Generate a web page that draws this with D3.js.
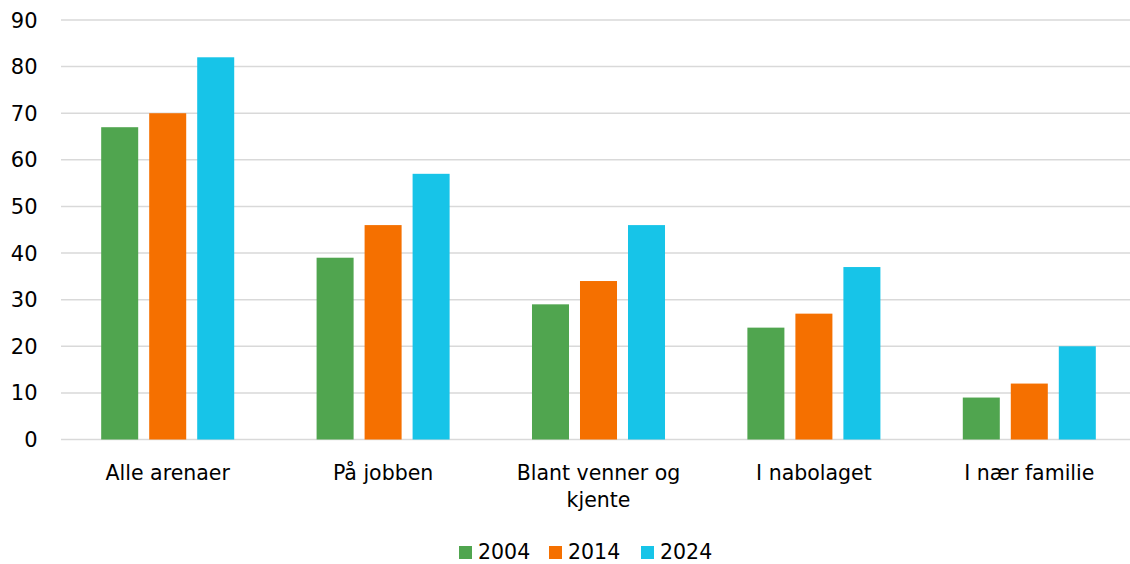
<!DOCTYPE html>
<html><head><meta charset="utf-8">
<script src="https://cdn.jsdelivr.net/npm/d3@7"></script>
<style>body{margin:0;background:#fff}svg{display:block}text{font-family:"DejaVu Sans",Verdana,sans-serif;fill:#000}</style>
</head><body><svg id="c" width="1130" height="564"></svg>
<script>
const categories = ["Alle arenaer", "På jobben", "Blant venner og kjente", "I nabolaget", "I nær familie"];
const categoryLines = [["Alle arenaer"], ["På jobben"], ["Blant venner og", "kjente"], ["I nabolaget"], ["I nær familie"]];
const seriesNames = ["2004", "2014", "2024"];
const values2004 = [67, 39, 29, 24, 9];
const values2014 = [70, 46, 34, 27, 12];
const values2024 = [82, 57, 46, 37, 20];
const yTicks = [0, 10, 20, 30, 40, 50, 60, 70, 80, 90];
const colors = ["#50A54F", "#F57000", "#17C4E8"];
const seriesValues = [values2004, values2014, values2024];

const svg = d3.select("#c");
const x = d3.scaleBand().domain(categories).range([60, 1137]).paddingInner(0).paddingOuter(0);
const x1 = d3.scaleBand().domain(seriesNames).range([0, x.bandwidth()]).paddingInner(0.229).paddingOuter(0.858);
const y = d3.scaleLinear().domain([0, 90]).range([439.5, 20]);

// gridlines
svg.append("g").selectAll("line").data(yTicks).join("line")
  .attr("x1", 61).attr("x2", 1130)
  .attr("y1", d => y(d)).attr("y2", d => y(d))
  .attr("stroke", "#d9d9d9").attr("stroke-width", 1.5);

// y labels
svg.append("g").selectAll("text").data(yTicks).join("text")
  .attr("x", 37.5).attr("y", d => y(d)).attr("dy", "0.36em")
  .attr("text-anchor", "end").attr("font-size", 21).text(d => d);

// bars
const groups = svg.append("g").selectAll("g").data(categories).join("g")
  .attr("transform", d => `translate(${x(d)},0)`);
groups.selectAll("rect").data((d, i) => seriesNames.map((s, j) => ({s, j, v: seriesValues[j][i]}))).join("rect")
  .attr("x", d => x1(d.s)).attr("width", x1.bandwidth())
  .attr("y", d => y(d.v)).attr("height", d => y(0) - y(d.v))
  .attr("fill", d => colors[d.j]);

// x labels
categories.forEach((c, i) => {
  const t = svg.append("text").attr("text-anchor", "middle").attr("font-size", 20.5)
    .attr("x", x(c) + x.bandwidth() / 2).attr("y", 480);
  categoryLines[i].forEach((l, k) => t.append("tspan").attr("x", x(c) + x.bandwidth() / 2).attr("dy", k ? 27 : 0).text(l));
});

// legend
const legendX = [459, 549, 641];
seriesNames.forEach((s, j) => {
  svg.append("rect").attr("x", legendX[j]).attr("y", 546).attr("width", 13).attr("height", 13).attr("fill", colors[j]);
  svg.append("text").attr("x", legendX[j] + 19).attr("y", 559).attr("font-size", 20.5).text(s);
});
</script></body></html>
